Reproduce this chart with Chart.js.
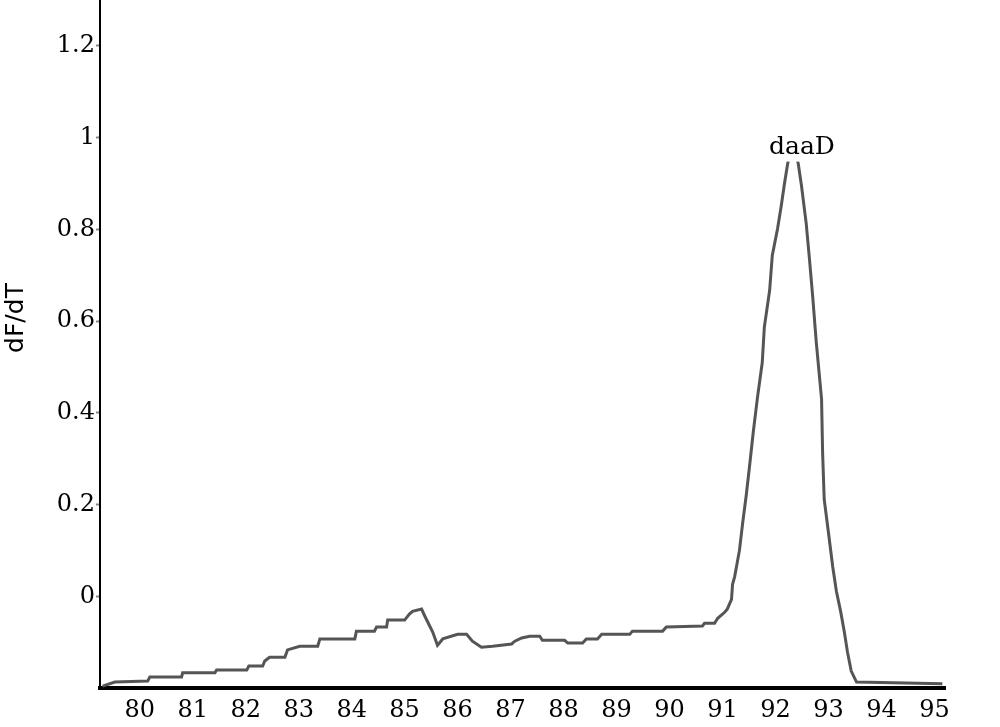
<!DOCTYPE html>
<html>
<head>
<meta charset="utf-8">
<script src="https://cdn.jsdelivr.net/npm/chart.js@4/dist/chart.umd.min.js"></script>
<style>
  body { margin: 0; background: #fff; }
  canvas { display: block; }
</style>
</head>
<body>
<canvas id="chart-melt" width="1000" height="727"></canvas>
<script>
// melt curve
const temps = [79.30,79.53,80.15,80.19,80.79,80.81,81.42,81.45,82.02,82.06,82.32,82.36,82.45,82.74,82.79,83.02,83.36,83.40,84.06,84.09,84.43,84.47,84.66,84.68,85.00,85.09,85.15,85.32,85.38,85.53,85.62,85.72,86.00,86.17,86.28,86.45,86.66,87.02,87.08,87.21,87.36,87.55,87.60,88.02,88.08,88.36,88.43,88.64,88.72,89.25,89.30,89.87,89.94,90.62,90.66,90.85,90.91,91.04,91.09,91.17,91.19,91.23,91.32,91.38,91.45,91.51,91.58,91.66,91.75,91.79,91.89,91.94,92.04,92.11,92.17,92.23,92.33,92.43,92.49,92.58,92.64,92.70,92.77,92.87,92.89,92.92,93.00,93.08,93.15,93.23,93.30,93.36,93.43,93.53,95.15];
const dfdt = [-0.196,-0.187,-0.185,-0.176,-0.176,-0.167,-0.167,-0.161,-0.161,-0.152,-0.152,-0.141,-0.133,-0.133,-0.117,-0.109,-0.109,-0.093,-0.093,-0.076,-0.076,-0.067,-0.067,-0.052,-0.052,-0.039,-0.033,-0.028,-0.043,-0.078,-0.107,-0.093,-0.083,-0.083,-0.098,-0.111,-0.109,-0.104,-0.098,-0.091,-0.087,-0.087,-0.096,-0.096,-0.102,-0.102,-0.093,-0.093,-0.083,-0.083,-0.076,-0.076,-0.067,-0.065,-0.059,-0.059,-0.048,-0.035,-0.028,-0.007,0.026,0.043,0.100,0.159,0.222,0.283,0.357,0.433,0.509,0.587,0.667,0.743,0.802,0.852,0.900,0.943,1.0,0.943,0.896,0.813,0.737,0.657,0.554,0.43,0.313,0.211,0.139,0.065,0.011,-0.033,-0.078,-0.122,-0.163,-0.187,-0.191];
const xTicks = [80,81,82,83,84,85,86,87,88,89,90,91,92,93,94,95];
const yTicks = [0,0.2,0.4,0.6,0.8,1,1.2];
const peakLabel = 'daaD';
const yTitle = 'dF/dT';

const points = temps.map((t, i) => ({ x: t, y: dfdt[i] }));

// axis title + peak label
const labelsPlugin = {
  id: 'labels',
  afterDraw(chart) {
    const { ctx, scales: { x, y } } = chart;
    ctx.save();

    ctx.font = '25px "DejaVu Sans", sans-serif';
    ctx.fillStyle = '#000';
    ctx.textAlign = 'center';
    ctx.textBaseline = 'middle';
    ctx.translate(16, 318);
    ctx.rotate(-Math.PI / 2);
    ctx.fillText(yTitle, 0, 0);
    ctx.setTransform(1, 0, 0, 1, 0, 0);

    const iPeak = dfdt.indexOf(Math.max(...dfdt));
    const px = x.getPixelForValue(temps[iPeak]) + 9;
    const py = y.getPixelForValue(dfdt[iPeak]) + 10;
    ctx.font = '25px "DejaVu Serif", serif';
    const w = ctx.measureText(peakLabel).width;
    ctx.fillStyle = '#fff';
    ctx.fillRect(px - w / 2 - 4, py - 20, w + 8, 34);
    ctx.fillStyle = '#000';
    ctx.fillText(peakLabel, px, py);
    ctx.restore();
  }
};

new Chart(document.getElementById('chart-melt'), {
  type: 'line',
  data: {
    datasets: [{
      data: points,
      borderColor: '#555',
      borderWidth: 3,
      pointRadius: 0,
      fill: false,
      tension: 0
    }]
  },
  options: {
    responsive: false,
    animation: false,
    layout: { padding: { top: 0, right: 55, left: 0, bottom: 0 } },
    plugins: { legend: { display: false }, tooltip: { enabled: false } },
    scales: {
      x: {
        type: 'linear',
        min: 79.25,
        max: 95.2,
        afterBuildTicks: s => { s.ticks = xTicks.map(v => ({ value: v })); },
        afterFit: s => { s.height = 39; s.paddingLeft = 0; s.paddingRight = 0; },
        grid: { display: false, drawTicks: false },
        border: { display: true, color: '#000', width: 4 },
        ticks: {
          padding: 8,
          color: '#000',
          maxRotation: 0,
          autoSkip: false,
          font: { family: '"DejaVu Serif", serif', size: 24 },
          callback: v => String(v)
        }
      },
      y: {
        type: 'linear',
        min: -0.2,
        max: 1.3,
        afterBuildTicks: s => { s.ticks = yTicks.map(v => ({ value: v })); },
        afterFit: s => { s.width = 100; s.paddingTop = 0; s.paddingBottom = 0; },
        grid: { drawOnChartArea: false, drawTicks: true, tickLength: 4, color: '#888', tickWidth: 2 },
        border: { display: true, color: '#000', width: 2 },
        ticks: {
          padding: 1,
          color: '#000',
          font: { family: '"DejaVu Serif", serif', size: 24 },
          callback: v => String(v)
        }
      }
    }
  },
  plugins: [labelsPlugin]
});
</script>
</body>
</html>
